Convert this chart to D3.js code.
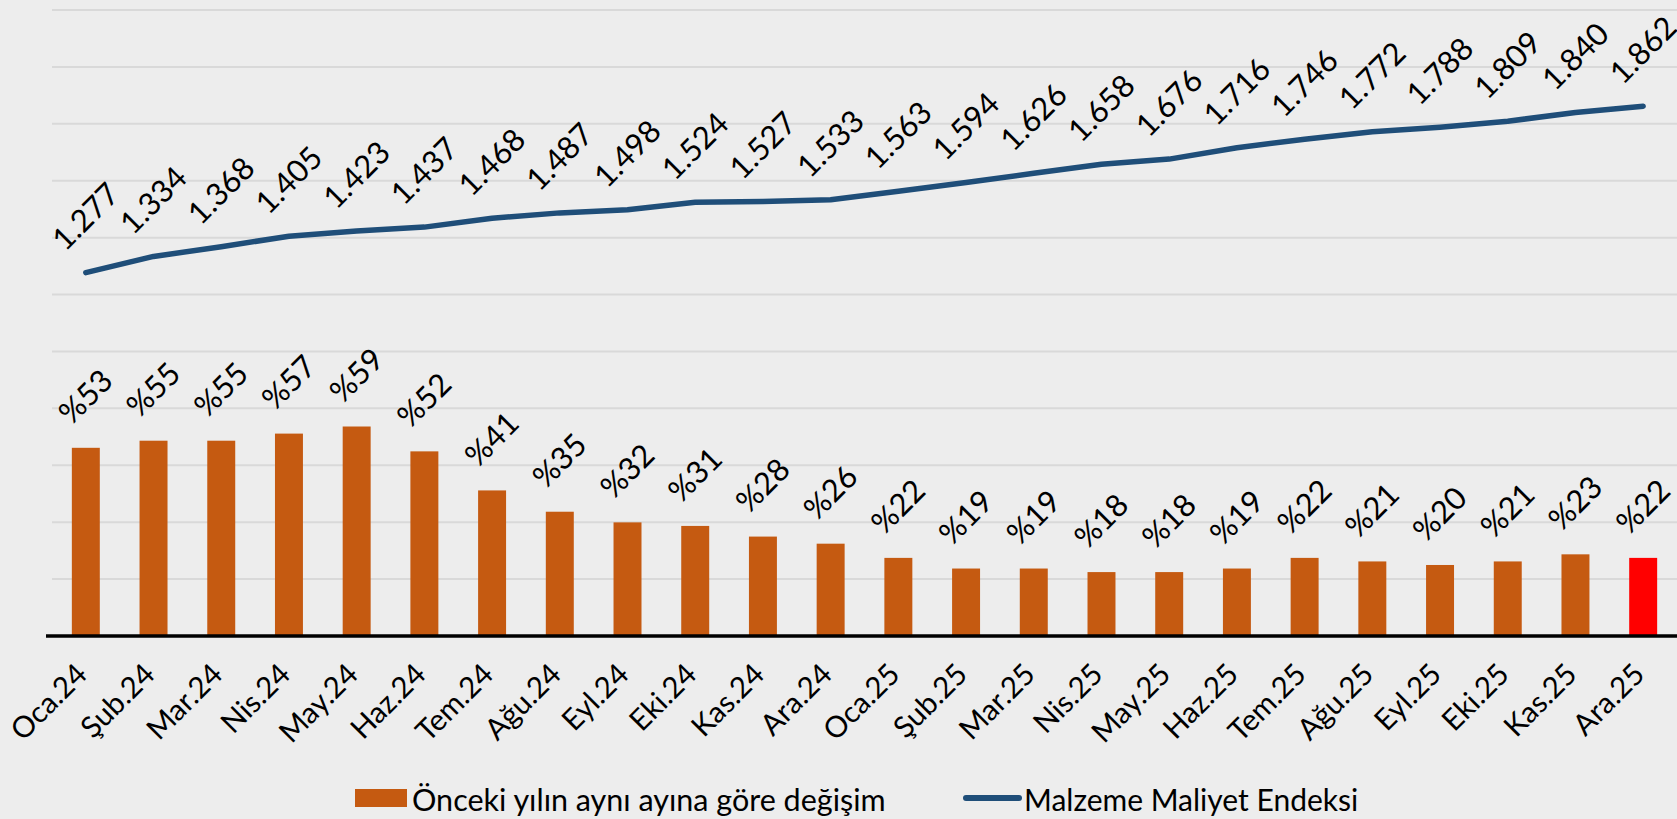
<!DOCTYPE html>
<html><head><meta charset="utf-8">
<script src="https://cdn.jsdelivr.net/npm/d3@7"></script>
<style>
html,body{margin:0;padding:0;background:#EDEDED;}
svg{display:block;}
text{font-family:"Lato","Noto Sans",sans-serif;fill:#000;}
</style></head>
<body><svg id="c" width="1677" height="819"></svg>
<script>
const categories = ["Oca.24","Şub.24","Mar.24","Nis.24","May.24","Haz.24","Tem.24","Ağu.24","Eyl.24","Eki.24","Kas.24","Ara.24","Oca.25","Şub.25","Mar.25","Nis.25","May.25","Haz.25","Tem.25","Ağu.25","Eyl.25","Eki.25","Kas.25","Ara.25"];
const yoyChange = [53,55,55,57,59,52,41,35,32,31,28,26,22,19,19,18,18,19,22,21,20,21,23,22];
const costIndex = [1277,1334,1368,1405,1423,1437,1468,1487,1498,1524,1527,1533,1563,1594,1626,1658,1676,1716,1746,1772,1788,1809,1840,1862];
const barName = "Önceki yılın aynı ayına göre değişim";
const lineName = "Malzeme Maliyet Endeksi";
const indexTicks = d3.range(0, 2201, 200);

(function(){
const svg = d3.select("#c");
const pL = 52, pR = 1677, pT = 10, pB = 636;

const x = d3.scaleBand().domain(categories).range([pL, pR]).paddingInner(0.587).paddingOuter(0.293);
const yBar = d3.scaleLinear().domain([0, 176.3]).range([pB, pT]);
const yLine = d3.scaleLinear().domain([0, 2200]).range([pB, pT]);
const trFmt = d3.formatLocale({decimal:",", thousands:".", grouping:[3], currency:["₺",""]}).format(",d");
const cx = c => x(c) + x.bandwidth()/2;

// gridlines
svg.append("g").selectAll("line").data(indexTicks.slice(1)).join("line")
  .attr("x1", pL).attr("x2", pR)
  .attr("y1", d => yLine(d)).attr("y2", d => yLine(d))
  .attr("stroke", "#D9D9D9").attr("stroke-width", 2);

// bars
svg.append("g").selectAll("rect").data(yoyChange).join("rect")
  .attr("x", (d,i) => x(categories[i]))
  .attr("width", x.bandwidth())
  .attr("y", d => yBar(d))
  .attr("height", d => yBar(0) - yBar(d))
  .attr("fill", (d,i) => i === categories.length - 1 ? "#FF0000" : "#C55A11");

// axis line
svg.append("line").attr("x1", pL - 6).attr("x2", pR).attr("y1", pB).attr("y2", pB)
  .attr("stroke", "#000").attr("stroke-width", 3.5);

// bar labels
svg.append("g").selectAll("text").data(yoyChange).join("text")
  .attr("transform", (d,i) => `translate(${cx(categories[i]) - 1},${yBar(d) - 52}) rotate(-45)`)
  .attr("text-anchor", "middle").attr("dominant-baseline", "central")
  .attr("font-size", 31)
  .text(d => "%" + d);

// line
const line = d3.line().x((d,i) => cx(categories[i])).y(d => yLine(d));
svg.append("path").datum(costIndex).attr("d", line)
  .attr("fill", "none").attr("stroke", "#1F4E79").attr("stroke-width", 5.5)
  .attr("stroke-linecap", "round").attr("stroke-linejoin", "round");

// line labels
svg.append("g").selectAll("text").data(costIndex).join("text")
  .attr("transform", (d,i) => `translate(${cx(categories[i]) - 1},${yLine(d) - 57}) rotate(-45)`)
  .attr("text-anchor", "middle").attr("dominant-baseline", "central")
  .attr("font-size", 31)
  .text(d => trFmt(d));

// x axis labels
svg.append("g").selectAll("text").data(categories).join("text")
  .attr("transform", d => `translate(${cx(d) - 5},${pB + 32}) rotate(-45)`)
  .attr("text-anchor", "end").attr("dominant-baseline", "central")
  .attr("font-size", 29.5)
  .text(d => d);

// legend
const lg = svg.append("g");
lg.append("rect").attr("x", 355).attr("y", 789).attr("width", 52).attr("height", 18).attr("fill", "#C55A11");
lg.append("text").attr("x", 412).attr("y", 799).attr("dominant-baseline", "central").attr("font-size", 30.5).text(barName);
lg.append("line").attr("x1", 966).attr("x2", 1019).attr("y1", 798).attr("y2", 798)
  .attr("stroke", "#1F4E79").attr("stroke-width", 6).attr("stroke-linecap", "round");
lg.append("text").attr("x", 1024).attr("y", 799).attr("dominant-baseline", "central").attr("font-size", 30).text(lineName);
})();
</script></body></html>
